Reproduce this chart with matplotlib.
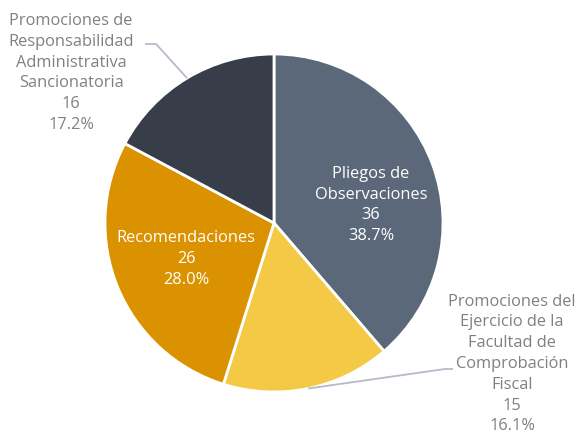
import numpy as np
import matplotlib.pyplot as plt

labels = ['Pliegos de\nObservaciones', 'Promociones del\nEjercicio de la\nFacultad de\nComprobación\nFiscal',
          'Recomendaciones', 'Promociones de\nResponsabilidad\nAdministrativa\nSancionatoria']
values = [36, 15, 26, 16]
colors = ['#5a6879', '#f4c945', '#db9200', '#373e4a']

plt.rcParams['font.family'] = ['Open Sans', 'DejaVu Sans']

fig = plt.figure(figsize=(5.8, 4.4), dpi=100)
ax = fig.add_axes([0, 0, 1, 1])

cx, cy, r = 274, 217, 169
wedges, _ = ax.pie(values, colors=colors, startangle=90, counterclock=False,
                   center=(cx, cy), radius=r, frame=True,
                   wedgeprops=dict(edgecolor='white', linewidth=2))
ax.set_xlim(0, 580)
ax.set_ylim(0, 440)
ax.set_aspect('equal')
ax.axis('off')

total = sum(values)
texts = [f'{l}\n{v}\n{v / total * 100:.1f}%' for l, v in zip(labels, values)]
fs = 11.8
ls = 1.4

# inside labels
ax.text(371, 440 - 205, texts[0], ha='center', va='center', color='white',
        fontsize=fs, linespacing=ls)
ax.text(186, 440 - 259, texts[2], ha='center', va='center', color='white',
        fontsize=fs, linespacing=ls)

# outside labels with leader lines
gray = '#808080'
line_c = '#b4bcc7'
ax.text(71, 440 - 73, texts[3], ha='center', va='center', color=gray,
        fontsize=fs, linespacing=ls)
ax.text(512, 440 - 364, texts[1], ha='center', va='center', color=gray,
        fontsize=fs, linespacing=ls)

for i, (kx, ky) in [(3, (156, 440 - 44)), (1, (445, 440 - 369))]:
    w = wedges[i]
    mid = np.deg2rad((w.theta1 + w.theta2) / 2)
    px, py = cx + r * np.cos(mid), cy + r * np.sin(mid)
    end = kx - 11 if i == 3 else kx + 8
    ax.plot([px, kx, end], [py, ky, ky], color=line_c, lw=1.3, solid_capstyle='butt')

fig.savefig('out.png', dpi=100)
